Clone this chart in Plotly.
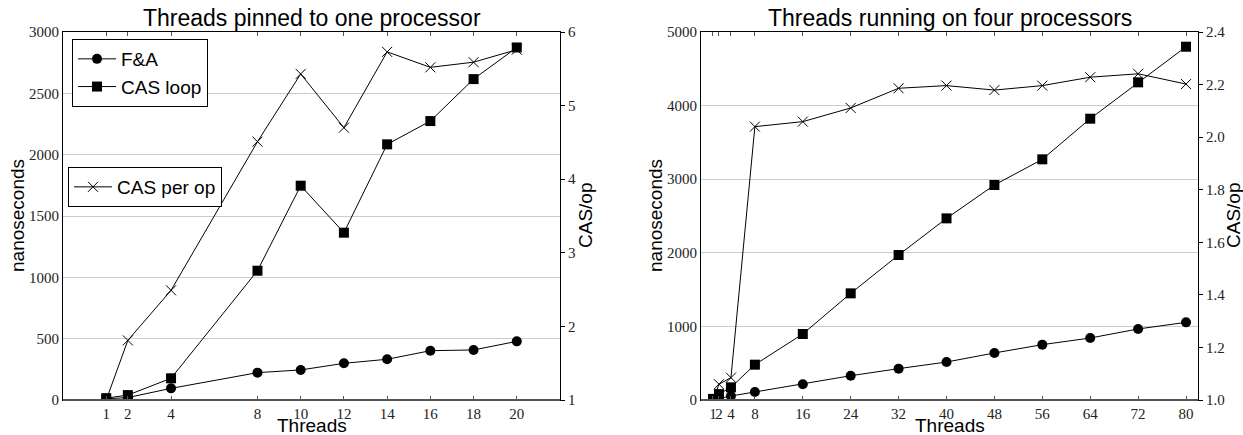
import plotly.graph_objects as go

# ---- data ----
threads_one = [1, 2, 4, 8, 10, 12, 14, 16, 18, 20]
fa_one = [10, 20, 95, 223, 245, 299, 332, 402, 408, 478]
cas_one = [15, 40, 177, 1054, 1747, 1364, 2084, 2274, 2616, 2874]
casop_one = [1.0, 1.81, 2.49, 4.51, 5.43, 4.70, 5.73, 5.52, 5.59, 5.76]

threads_four = [1, 2, 4, 8, 16, 24, 32, 40, 48, 56, 64, 72, 80]
fa_four = [10, 20, 54, 109, 213, 330, 426, 516, 639, 752, 842, 965, 1055]
cas_four = [15, 80, 172, 480, 897, 1449, 1970, 2468, 2921, 3270, 3822, 4316, 4800]
casop_four = [1.0, 1.06, 1.085, 2.04, 2.059, 2.111, 2.186, 2.196, 2.179, 2.196, 2.228, 2.241, 2.202]

ns_ticks_one = [0, 500, 1000, 1500, 2000, 2500, 3000]
casop_ticks_one = [1, 2, 3, 4, 5, 6]
ns_ticks_four = [0, 1000, 2000, 3000, 4000, 5000]
casop_ticks_four = [1.0, 1.2, 1.4, 1.6, 1.8, 2.0, 2.2, 2.4]

W, H = 1243, 435
SANS = "Liberation Sans, Arial, sans-serif"
SERIF = "Liberation Serif, Times New Roman, serif"

fig = go.Figure()

line = dict(color="black", width=1)

fig.add_trace(go.Scatter(x=threads_one, y=fa_one, name="F&A", mode="lines+markers",
                         line=line, marker=dict(symbol="circle", size=10, color="black"),
                         xaxis="x", yaxis="y", legend="legend"))
fig.add_trace(go.Scatter(x=threads_one, y=cas_one, name="CAS loop", mode="lines+markers",
                         line=line, marker=dict(symbol="square", size=10, color="black"),
                         xaxis="x", yaxis="y", legend="legend"))
fig.add_trace(go.Scatter(x=threads_one, y=casop_one, name="CAS per op", mode="lines+markers",
                         line=line, marker=dict(symbol="x-thin-open", size=10, color="black",
                                                line=dict(color="black", width=1)),
                         xaxis="x", yaxis="y2", legend="legend2"))

fig.add_trace(go.Scatter(x=threads_four, y=fa_four, name="F&A", mode="lines+markers",
                         line=line, marker=dict(symbol="circle", size=10, color="black"),
                         xaxis="x2", yaxis="y3", showlegend=False))
fig.add_trace(go.Scatter(x=threads_four, y=cas_four, name="CAS loop", mode="lines+markers",
                         line=line, marker=dict(symbol="square", size=10, color="black"),
                         xaxis="x2", yaxis="y3", showlegend=False))
fig.add_trace(go.Scatter(x=threads_four, y=casop_four, name="CAS per op", mode="lines+markers",
                         line=line, marker=dict(symbol="x-thin-open", size=10, color="black",
                                                line=dict(color="black", width=1)),
                         xaxis="x2", yaxis="y4", showlegend=False))

xd1 = [63 / W, 560 / W]
xd2 = [701 / W, 1198 / W]
yd = [1 - 400 / H, 1 - 32 / H]

tickfont = dict(family=SERIF, size=15, color="#222")

def xax(domain, rng, vals, anchor):
    return dict(domain=domain, range=rng, tickvals=vals, ticktext=[str(v) for v in vals],
                showgrid=False, zeroline=False, showline=True, linecolor="black", linewidth=1,
                mirror="ticks", ticks="inside", ticklen=4, tickcolor="#555", tickangle=0,
                tickfont=tickfont, anchor=anchor, automargin=False)

def yax(domain, rng, vals, anchor, fmt=None):
    return dict(domain=domain, range=rng, tickvals=vals,
                ticktext=[fmt.format(v) if fmt else str(v) for v in vals],
                showgrid=True, gridcolor="#cccccc", gridwidth=1, zeroline=False,
                showline=True, linecolor="black", linewidth=1, ticks="",
                tickfont=tickfont, anchor=anchor, automargin=False)

def y2ax(rng, vals, overlay, anchor, fmt=None):
    return dict(range=rng, tickvals=vals,
                ticktext=[fmt.format(v) if fmt else str(v) for v in vals],
                overlaying=overlay, side="right", anchor=anchor, showgrid=False,
                zeroline=False, showline=True, linecolor="black", linewidth=1,
                ticks="outside", ticklen=4, tickcolor="black", tickfont=tickfont,
                automargin=False)

fig.update_layout(
    width=W, height=H,
    margin=dict(l=0, r=0, t=0, b=0),
    paper_bgcolor="white", plot_bgcolor="white",
    xaxis=xax(xd1, [-1, 22], threads_one, "y"),
    yaxis=yax(yd, [0, 3000], ns_ticks_one, "x"),
    yaxis2=y2ax([1, 6], casop_ticks_one, "y", "x"),
    xaxis2=xax(xd2, [-1, 82], threads_four, "y3"),
    yaxis3=yax(yd, [0, 5000], ns_ticks_four, "x2"),
    yaxis4=y2ax([1.0, 2.4], casop_ticks_four, "y3", "x2", "{:.1f}"),
    legend=dict(x=72 / W, y=1 - 39 / H, xanchor="left", yanchor="top",
                bgcolor="white", bordercolor="black", borderwidth=1,
                font=dict(family=SANS, size=19, color="black"), itemwidth=38,
                tracegroupgap=0),
    legend2=dict(x=68 / W, y=1 - 167 / H, xanchor="left", yanchor="top",
                 bgcolor="white", bordercolor="black", borderwidth=1,
                 font=dict(family=SANS, size=19, color="black"), itemwidth=38),
    showlegend=True,
)

# zero baseline (thicker grey bottom edge)
for xr, yr in (("x", "y"), ("x2", "y3")):
    fig.add_shape(type="line", xref=f"{xr} domain", yref=f"{yr} domain",
                  x0=0, x1=1, y0=0, y1=0, line=dict(color="#555", width=2))

ann = []
for dom, title in ((xd1, "Threads pinned to one processor"), (xd2, "Threads running on four processors")):
    ann.append(dict(text=title, x=(dom[0] + dom[1]) / 2, y=1 - 18 / H, xref="paper", yref="paper",
                    xanchor="center", yanchor="middle", showarrow=False,
                    font=dict(family=SANS, size=23, color="black")))
    ann.append(dict(text="Threads", x=(dom[0] + dom[1]) / 2, y=0, xref="paper", yref="paper",
                    xanchor="center", yanchor="bottom", yshift=-3, showarrow=False,
                    font=dict(family=SANS, size=19, color="black")))
for xc in (17, 655):
    ann.append(dict(text="nanoseconds", x=xc / W, y=1 - 216 / H, xref="paper", yref="paper",
                    xanchor="center", yanchor="middle", showarrow=False, textangle=-90,
                    font=dict(family=SANS, size=19, color="black")))
for xc in (585, 1233):
    ann.append(dict(text="CAS/op", x=xc / W, y=1 - 216 / H, xref="paper", yref="paper",
                    xanchor="center", yanchor="middle", showarrow=False, textangle=-90,
                    font=dict(family=SANS, size=19, color="black")))
fig.update_layout(annotations=ann)

fig.write_html("out.html", config={"displayModeBar": False},
               post_script="document.body.style.margin='0';document.body.style.padding='0';")
